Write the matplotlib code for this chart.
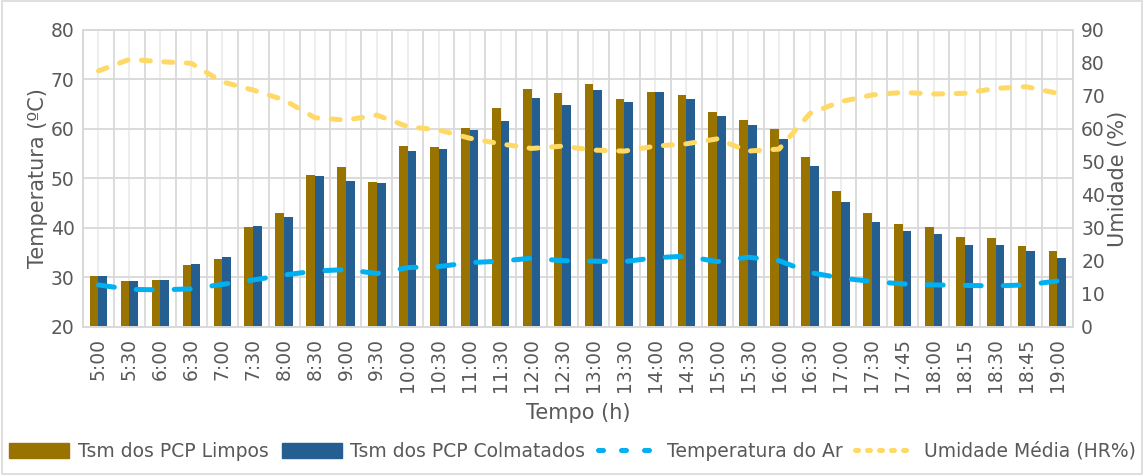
import matplotlib
matplotlib.use("Agg")
import matplotlib.pyplot as plt
import numpy as np
from matplotlib.lines import Line2D
from matplotlib.patches import Patch, Rectangle

plt.rcParams['font.family'] = ['DejaVu Sans']

tempo = ['5:00', '5:30', '6:00', '6:30', '7:00', '7:30', '8:00', '8:30', '9:00', '9:30',
         '10:00', '10:30', '11:00', '11:30', '12:00', '12:30', '13:00', '13:30', '14:00', '14:30',
         '15:00', '15:30', '16:00', '16:30', '17:00', '17:30', '17:45', '18:00', '18:15', '18:30',
         '18:45', '19:00']
pcp_limpos = [30.4, 29.3, 29.5, 32.5, 33.8, 40.2, 43.0, 50.7, 52.3, 49.2,
              56.5, 56.4, 60.2, 64.2, 68.0, 67.3, 69.0, 66.1, 67.4, 66.9,
              63.4, 61.9, 60.0, 54.4, 47.5, 43.1, 40.9, 40.1, 38.1, 37.9,
              36.3, 35.4]
pcp_colmatados = [30.3, 29.3, 29.5, 32.8, 34.2, 40.5, 42.2, 50.5, 49.5, 49.1,
                  55.6, 56.0, 59.8, 61.6, 66.2, 64.8, 67.8, 65.4, 67.5, 66.1,
                  62.6, 60.9, 57.9, 52.6, 45.2, 41.3, 39.3, 38.8, 36.5, 36.5,
                  35.4, 33.9]
temp_ar = [28.5, 27.6, 27.5, 27.7, 28.6, 29.5, 30.5, 31.3, 31.6, 30.8,
           32.0, 32.2, 33.0, 33.3, 33.9, 33.4, 33.3, 33.2, 34.0, 34.3,
           33.2, 34.1, 33.4, 31.0, 29.9, 29.2, 28.7, 28.5, 28.4, 28.3,
           28.5, 29.3]
umidade = [77.6, 81.1, 80.4, 79.9, 74.3, 71.8, 68.8, 63.4, 62.7, 64.2,
           60.7, 59.7, 57.2, 55.5, 54.1, 54.8, 53.6, 53.3, 54.8, 55.5,
           57.0, 53.3, 53.9, 64.7, 68.3, 70.3, 71.1, 70.6, 70.8, 72.3,
           72.8, 70.8]

cor_limpos = '#997300'
cor_colm = '#255E91'
cor_ar = '#00B0F0'
cor_umid = '#FFD966'
cinza = '#595959'
grade = '#D9D9D9'

fig = plt.figure(figsize=(11.45, 4.75), dpi=100)
ax = fig.add_axes([0.0725, 0.3116, 0.8645, 0.6253])
ax2 = ax.twinx()

x = np.arange(len(tempo))
w = 0.28

# grade vertical: limites e centros das categorias
for b in np.arange(len(tempo) + 1) - 0.5:
    ax.axvline(b, color=grade, lw=1.3, zorder=0)
for c in x:
    ax.axvline(c, color='#EDEDED', lw=1.3, zorder=0)
ax.set_ylim(20, 80)
ax.set_yticks(np.arange(20, 81, 10))
ax.yaxis.grid(True, color=grade, lw=1.3, zorder=0)
ax.set_axisbelow(True)

ax.bar(x - w / 2, pcp_limpos, width=w, color=cor_limpos, zorder=2)
ax.bar(x + w / 2, pcp_colmatados, width=w, color=cor_colm, zorder=2)
ax.plot(x, temp_ar, color=cor_ar, lw=3.6, dashes=(3.2, 4.4), dash_capstyle='round', zorder=3)

ax2.plot(x, umidade, color=cor_umid, lw=3.6, dashes=(1.8, 2.7), dash_capstyle='round', zorder=3)
ax2.set_ylim(0, 90)
ax2.set_yticks(np.arange(0, 91, 10))

ax.set_xlim(-0.5, len(tempo) - 0.5)
ax.set_xticks(x)
ax.set_xticklabels(tempo, rotation=90, fontsize=12, color=cinza)

for a in (ax, ax2):
    a.tick_params(length=0, labelsize=13.5, labelcolor=cinza)
    for s in a.spines.values():
        s.set_color(grade)
        s.set_linewidth(1.3)
ax.tick_params(axis='y', pad=6)
ax2.tick_params(axis='y', pad=6)
ax.tick_params(axis='x', pad=8)

ax.set_ylabel('Temperatura (ºC)', fontsize=15, color=cinza, labelpad=2)
ax2.set_ylabel('Umidade (%)', fontsize=15, color=cinza, labelpad=2)
ax.set_xlabel('Tempo (h)', fontsize=15, color=cinza, labelpad=8)

handles = [
    Patch(color=cor_limpos),
    Patch(color=cor_colm),
    Line2D([], [], color=cor_ar, lw=3.6, dashes=(1.0, 3.6), dash_capstyle='round'),
    Line2D([], [], color=cor_umid, lw=3.6, dashes=(0.6, 1.8), dash_capstyle='round'),
]
labels = ['Tsm dos PCP Limpos', 'Tsm dos PCP Colmatados', 'Temperatura do Ar', 'Umidade Média (HR%)']
fig.legend(handles, labels, loc='center', bbox_to_anchor=(0.5, 0.05), ncol=4, frameon=False,
           fontsize=13.5, labelcolor=cinza, handlelength=3.2, handleheight=0.9,
           handletextpad=0.45, columnspacing=0.7)

fig.add_artist(Rectangle((0.002, 0.003), 0.995, 0.994, transform=fig.transFigure,
                         fill=False, edgecolor=grade, lw=1.2))

fig.savefig('out.png', dpi=100)
